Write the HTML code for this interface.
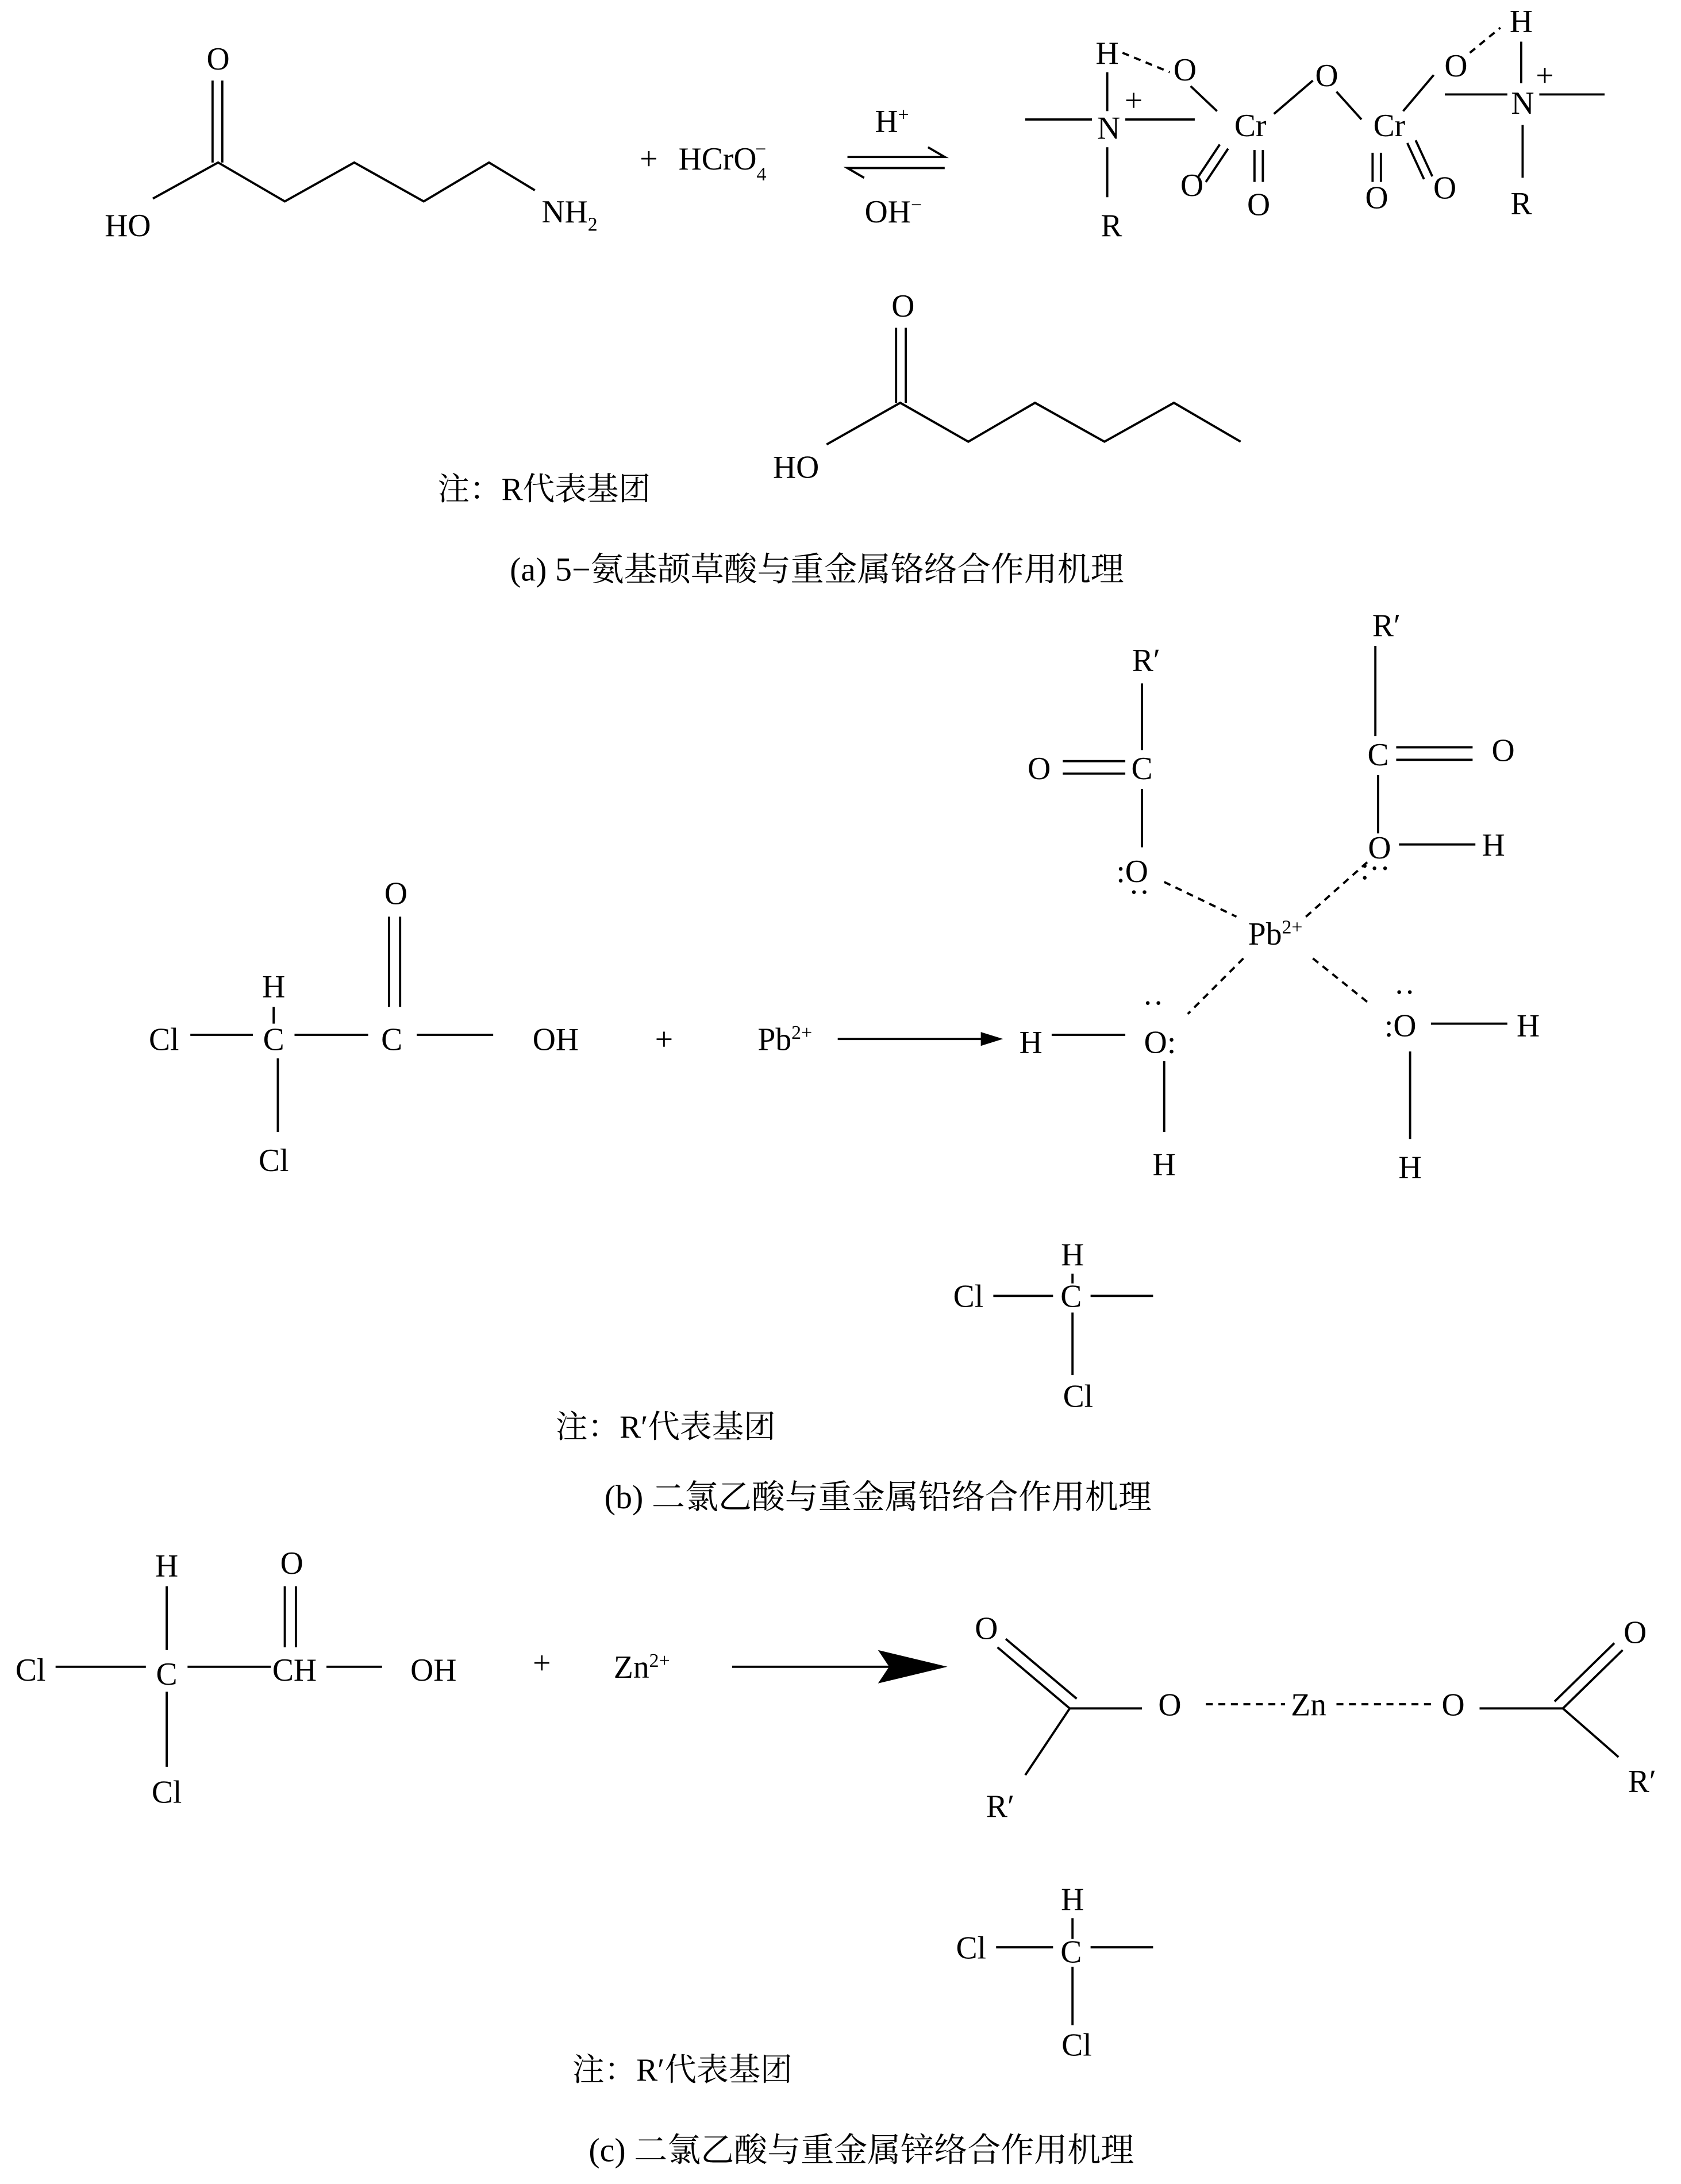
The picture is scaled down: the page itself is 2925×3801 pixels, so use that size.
<!DOCTYPE html>
<html><head><meta charset="utf-8"><style>
html,body{margin:0;padding:0;background:#fff;}
svg{display:block;}
text{font-family:"Liberation Serif","Noto Serif CJK SC","Noto Sans CJK SC",serif;font-size:23px;fill:#000;text-anchor:middle;}
.cap{font-size:24px;}
line,polyline{stroke:#000;stroke-width:1.6;fill:none;}
.d{stroke-dasharray:5,4;}
</style></head><body>
<svg width="2925" height="3801" viewBox="0 0 1210 1572.4" preserveAspectRatio="none">
<rect width="1210" height="1572.4" fill="#fff" stroke="none"/>
<!-- (a) left molecule -->
<text x="157" y="50">O</text>
<line x1="153" y1="58" x2="153" y2="117"/><line x1="160" y1="58" x2="160" y2="117"/>
<polyline points="110,143 157,117 205,145 255,117 305,145 352,117 385,137"/>
<text x="92" y="170">HO</text>
<text x="410" y="160">NH<tspan font-size="14" dy="6">2</tspan></text>
<text x="467" y="122">+</text>
<text x="520" y="122">HCrO<tspan font-size="14" dy="8">4</tspan><tspan font-size="14" dy="-18" dx="-8">−</tspan></text>
<polyline points="610,113 680,113 668,106"/>
<polyline points="680,121 610,121 622,128"/>
<text x="642" y="95">H<tspan font-size="14" dy="-8">+</tspan></text>
<text x="643" y="160">OH<tspan font-size="14" dy="-8">−</tspan></text>
<!-- complex -->
<text x="797" y="46">H</text>
<line x1="797" y1="52" x2="797" y2="80"/>
<text x="798" y="100">N</text>
<text x="816" y="80" font-size="16">+</text>
<line x1="738" y1="86" x2="786" y2="86" stroke-width="2.2"/><line x1="810" y1="86" x2="860" y2="86" stroke-width="2.2"/>
<line x1="797" y1="106" x2="797" y2="142"/>
<text x="800" y="170">R</text>
<line class="d" x1="808" y1="38" x2="842" y2="52" stroke-width="2"/>
<text x="853" y="58">O</text>
<line x1="857" y1="62" x2="876" y2="80"/>
<text x="900" y="98">Cr</text>
<line x1="917" y1="82" x2="945" y2="58"/>
<text x="955" y="62">O</text>
<line x1="962" y1="66" x2="980" y2="86"/>
<text x="1000" y="98">Cr</text>
<line x1="878" y1="104" x2="862" y2="128"/><line x1="884" y1="107" x2="868" y2="131"/>
<text x="858" y="141">O</text>
<line x1="903" y1="108" x2="903" y2="131"/><line x1="909" y1="108" x2="909" y2="131"/>
<text x="906" y="155">O</text>
<line x1="988" y1="110" x2="988" y2="131"/><line x1="994" y1="110" x2="994" y2="131"/>
<text x="991" y="150">O</text>
<line x1="1013" y1="103" x2="1025" y2="129"/><line x1="1019" y1="101" x2="1031" y2="127"/>
<text x="1040" y="143">O</text>
<line x1="1010" y1="80" x2="1032" y2="54"/>
<text x="1048" y="55">O</text>
<line class="d" x1="1058" y1="38" x2="1080" y2="20" stroke-width="2"/>
<text x="1095" y="23">H</text>
<line x1="1095" y1="30" x2="1095" y2="60"/>
<line x1="1040" y1="68" x2="1085" y2="68" stroke-width="2.2"/><line x1="1108" y1="68" x2="1155" y2="68" stroke-width="2.2"/>
<text x="1096" y="82">N</text>
<text x="1112" y="62" font-size="16">+</text>
<line x1="1096" y1="90" x2="1096" y2="128"/>
<text x="1095" y="154">R</text>
<!-- hexanoic -->
<text x="650" y="228">O</text>
<line x1="645" y1="236" x2="645" y2="290"/><line x1="652" y1="236" x2="652" y2="290"/>
<polyline points="595,320 648,290 697,318 745,290 795,318 845,290 893,318"/>
<text x="573" y="344">HO</text>
<text x="315" y="360" style="text-anchor:start">注：R代表基团</text>
<text class="cap" x="588" y="418">(a) 5−氨基颉草酸与重金属铬络合作用机理</text>
<!-- (b) -->
<text x="825" y="483">R′</text>
<line x1="822" y1="492" x2="822" y2="540"/>
<text x="822" y="561">C</text>
<text x="748" y="561">O</text>
<line x1="765" y1="548" x2="810" y2="548"/><line x1="765" y1="557" x2="810" y2="557"/>
<line x1="822" y1="568" x2="822" y2="610"/>
<text x="815" y="635">:O</text>
<text x="820" y="650" font-size="16">··</text>
<line class="d" x1="838" y1="635" x2="890" y2="660"/>
<text x="918" y="680">Pb<tspan font-size="14" dy="-8">2+</tspan></text>
<text x="998" y="458">R′</text>
<line x1="990" y1="465" x2="990" y2="530"/>
<text x="992" y="551">C</text>
<line x1="1005" y1="538" x2="1060" y2="538"/><line x1="1005" y1="547" x2="1060" y2="547"/>
<text x="1082" y="548">O</text>
<line x1="992" y1="558" x2="992" y2="600"/>
<text x="993" y="618">O</text>
<text x="990" y="633" font-size="16">:··</text>
<line x1="1007" y1="608" x2="1062" y2="608"/>
<text x="1075" y="616">H</text>
<line class="d" x1="940" y1="660" x2="985" y2="620"/>
<text x="197" y="718">H</text>
<line x1="197" y1="725" x2="197" y2="737"/>
<text x="118" y="756">Cl</text>
<line x1="137" y1="745" x2="182" y2="745"/>
<text x="197" y="756">C</text>
<line x1="212" y1="745" x2="265" y2="745"/>
<text x="282" y="756">C</text>
<line x1="300" y1="745" x2="355" y2="745"/>
<text x="400" y="756">OH</text>
<line x1="280" y1="660" x2="280" y2="725"/><line x1="288" y1="660" x2="288" y2="725"/>
<text x="285" y="651">O</text>
<line x1="200" y1="762" x2="200" y2="815"/>
<text x="197" y="843">Cl</text>
<text x="478" y="756">+</text>
<text x="565" y="756">Pb<tspan font-size="14" dy="-8">2+</tspan></text>
<line x1="603" y1="748" x2="712" y2="748"/>
<path d="M722,748 L706,743 L706,753 Z" style="fill:#000;stroke:none"/>
<text x="742" y="758">H</text>
<line x1="757" y1="745" x2="810" y2="745"/>
<text x="835" y="758">O:</text>
<text x="830" y="730" font-size="16">··</text>
<line x1="838" y1="764" x2="838" y2="815"/>
<text x="838" y="846">H</text>
<line class="d" x1="895" y1="690" x2="855" y2="730"/>
<line class="d" x1="945" y1="690" x2="985" y2="722"/>
<text x="1008" y="746">:O</text>
<text x="1011" y="722" font-size="16">··</text>
<line x1="1030" y1="737" x2="1085" y2="737"/>
<text x="1100" y="746">H</text>
<line x1="1015" y1="757" x2="1015" y2="820"/>
<text x="1015" y="848">H</text>
<text x="772" y="911">H</text>
<line x1="772" y1="917" x2="772" y2="924"/>
<text x="697" y="941">Cl</text>
<line x1="715" y1="933" x2="758" y2="933"/>
<text x="771" y="941">C</text>
<line x1="785" y1="933" x2="830" y2="933"/>
<line x1="772" y1="945" x2="772" y2="990"/>
<text x="776" y="1013">Cl</text>
<text x="400" y="1035" style="text-anchor:start">注：R′代表基团</text>
<text class="cap" x="632" y="1086">(b) 二氯乙酸与重金属铅络合作用机理</text>
<!-- (c) -->
<text x="120" y="1135">H</text>
<line x1="120" y1="1142" x2="120" y2="1188"/>
<text x="22" y="1210">Cl</text>
<line x1="40" y1="1200" x2="105" y2="1200"/>
<text x="120" y="1213">C</text>
<line x1="135" y1="1200" x2="195" y2="1200"/>
<text x="212" y="1210">CH</text>
<text x="210" y="1133">O</text>
<line x1="205" y1="1142" x2="205" y2="1186"/><line x1="213" y1="1142" x2="213" y2="1186"/>
<line x1="235" y1="1200" x2="275" y2="1200"/>
<text x="312" y="1210">OH</text>
<line x1="120" y1="1218" x2="120" y2="1272"/>
<text x="120" y="1298">Cl</text>
<text x="390" y="1205">+</text>
<text x="462" y="1208">Zn<tspan font-size="14" dy="-8">2+</tspan></text>
<line x1="527" y1="1200" x2="650" y2="1200" stroke-width="3"/>
<path d="M682,1200 L632,1188 L640,1200 L632,1212 Z" style="fill:#000;stroke:none"/>
<text x="710" y="1180">O</text>
<line x1="718" y1="1186" x2="770" y2="1230"/><line x1="724" y1="1180" x2="775" y2="1223"/>
<line x1="770" y1="1230" x2="822" y2="1230"/>
<line x1="770" y1="1230" x2="738" y2="1278"/>
<text x="720" y="1308">R′</text>
<text x="842" y="1235">O</text>
<line class="d" x1="868" y1="1227" x2="925" y2="1227"/>
<text x="942" y="1235">Zn</text>
<line class="d" x1="962" y1="1227" x2="1030" y2="1227"/>
<text x="1046" y="1235">O</text>
<line x1="1065" y1="1230" x2="1125" y2="1230"/>
<line x1="1125" y1="1230" x2="1168" y2="1188"/><line x1="1119" y1="1225" x2="1162" y2="1183"/>
<text x="1177" y="1183">O</text>
<line x1="1125" y1="1230" x2="1165" y2="1265"/>
<text x="1182" y="1290">R′</text>
<text x="772" y="1375">H</text>
<line x1="772" y1="1381" x2="772" y2="1396"/>
<text x="699" y="1410">Cl</text>
<line x1="717" y1="1402" x2="758" y2="1402"/>
<text x="771" y="1413">C</text>
<line x1="785" y1="1402" x2="830" y2="1402"/>
<line x1="772" y1="1416" x2="772" y2="1458"/>
<text x="775" y="1480">Cl</text>
<text x="412" y="1498" style="text-anchor:start">注：R′代表基团</text>
<text class="cap" x="620" y="1556">(c) 二氯乙酸与重金属锌络合作用机理</text>
</svg>
</body></html>
